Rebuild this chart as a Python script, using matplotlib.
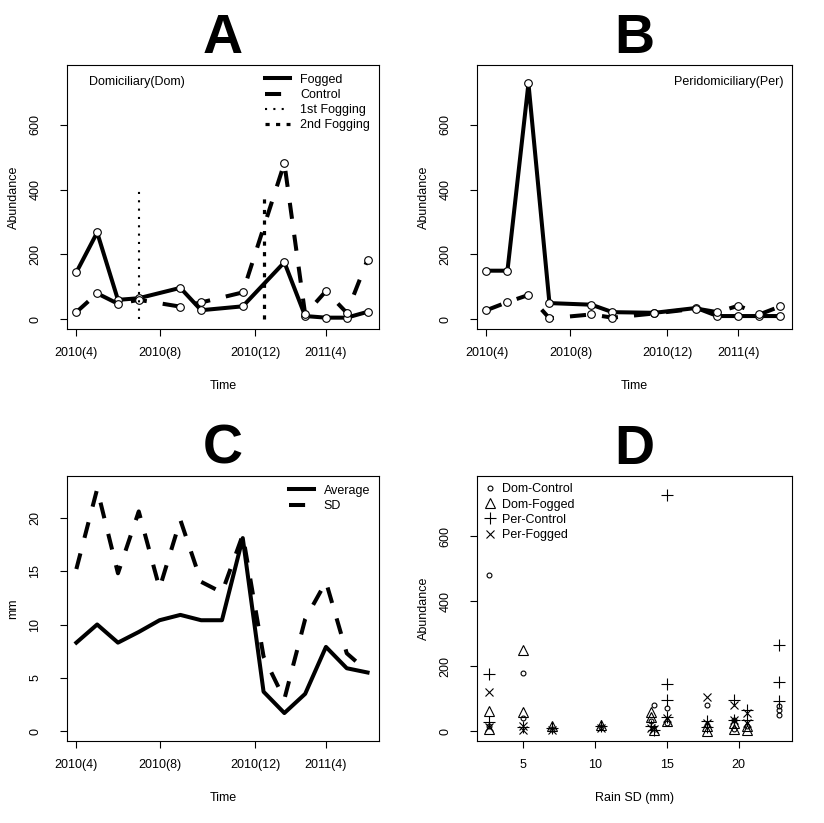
import numpy as np
import matplotlib.pyplot as plt
from matplotlib.lines import Line2D

plt.rcParams['font.family'] = ['Liberation Sans', 'DejaVu Sans']
plt.rcParams['font.size'] = 9

# sampling positions (month index) and time tick labels
t_idx = [1, 2, 3, 4, 6, 7, 9, 11, 12, 13, 14, 15]
t_all = list(range(1, 16))
time_ticks = [1, 5, 9.6, 13]
time_labels = ['2010(4)', '2010(8)', '2010(12)', '2011(4)']

# panel A: domiciliary
dom_fogged = [145, 268, 60, 65, 97, 28, 40, 176, 10, 5, 5, 23]
dom_control = [22, 80, 48, 60, 39, 52, 83, 482, 15, 87, 20, 184]
fog1_x, fog1_top = 4, 400
fog2_x, fog2_top = 10, 380

# panel B: peridomiciliary
per_fogged = [150, 150, 728, 50, 45, 22, 20, 35, 10, 10, 10, 10]
per_control = [28, 53, 75, 3, 15, 5, 18, 33, 22, 42, 15, 40]

# panel C: rain
rain_avg = [8.3, 10.0, 8.3, 9.3, 10.4, 10.9, 10.4, 10.4, 18.1, 3.7, 1.7, 3.5, 7.9, 5.9, 5.5]
rain_sd = [15.2, 22.7, 14.8, 20.6, 13.4, 19.8, 14.0, 13.0, 18.4, 7.0, 3.0, 10.5, 14.0, 7.3, 5.6]

# panel D: abundance vs rain SD
dc_x = [2.6, 2.6, 5.0, 5.0, 7.0, 10.4, 13.9, 14.1, 15.0, 15.0, 17.8, 17.8, 19.7, 19.7, 20.6, 22.8, 22.8, 22.8]
dc_y = [480, 15, 180, 40, 8, 12, 30, 82, 70, 25, 82, 20, 35, 8, 15, 77, 65, 50]
df_x = [2.6, 2.6, 5.0, 5.0, 7.0, 10.4, 13.9, 13.9, 14.1, 15.0, 17.8, 17.8, 19.7, 19.7, 20.6, 20.6]
df_y = [62, 6, 250, 60, 15, 18, 60, 45, 5, 30, 15, 2, 25, 8, 15, 5]
pc_x = [2.6, 2.6, 5.0, 7.0, 10.4, 13.9, 14.1, 15.0, 15.0, 15.0, 15.0, 17.8, 17.8, 19.7, 19.7, 20.6, 20.6, 22.8, 22.8, 22.8]
pc_y = [175, 28, 12, 10, 15, 15, 5, 728, 145, 95, 45, 30, 12, 95, 36, 65, 35, 265, 152, 92]
pf_x = [2.6, 2.6, 5.0, 5.0, 7.0, 10.4, 13.9, 14.1, 15.0, 17.8, 17.8, 19.7, 19.7, 20.6, 20.6]
pf_y = [122, 12, 15, 3, 3, 10, 10, 8, 40, 105, 25, 80, 36, 55, 25]

W, H = 824, 823
fig = plt.figure(figsize=(W / 100, H / 100), dpi=100)
axA = fig.add_axes([67 / W, 1 - 329 / H, 312 / W, 264 / H])
axB = fig.add_axes([477 / W, 1 - 329 / H, 315 / W, 264 / H])
axC = fig.add_axes([67 / W, 1 - 741 / H, 312 / W, 265 / H])
axD = fig.add_axes([477 / W, 1 - 741 / H, 315 / W, 265 / H])

LW = 2.9
DASH = (0, (4, 4))


def style(ax):
    for s in ax.spines.values():
        s.set_linewidth(0.8)
    ax.tick_params(direction='out', length=5, width=0.8, labelsize=9)
    ax.tick_params(axis='x', pad=8)
    ax.tick_params(axis='y', pad=13.5)
    for t in ax.get_yticklabels():
        t.set_rotation(90)
        t.set_va('center')


def line(ax, x, y, ls):
    ax.plot(x, y, color='k', lw=LW, ls=ls, marker='o', ms=5.5,
            mfc='white', mec='k', mew=0.8, solid_joinstyle='round')


# A
line(axA, t_idx, dom_fogged, '-')
line(axA, t_idx, dom_control, DASH)
axA.plot([fog1_x, fog1_x], [0, fog1_top], color='k', lw=1.5, ls=(0, (1, 3)))
axA.plot([fog2_x, fog2_x], [0, fog2_top], color='k', lw=2.3, ls=(0, (1.3, 2.0)))
axA.text(0.072, 0.936, 'Domiciliary(Dom)', transform=axA.transAxes, va='center', ha='left')
handles = [Line2D([], [], color='k', lw=LW, ls='-'),
           Line2D([], [], color='k', lw=LW, ls=DASH),
           Line2D([], [], color='k', lw=1.5, ls=(0, (1, 3))),
           Line2D([], [], color='k', lw=2.3, ls=(0, (1.3, 2.0)))]
axA.legend(handles, ['Fogged', 'Control', '1st Fogging', '2nd Fogging'], loc='upper right',
           frameon=False, fontsize=9, handlelength=2.0, handletextpad=0.8,
           labelspacing=0.25, borderaxespad=0.3)

# B
line(axB, t_idx, per_fogged, '-')
line(axB, t_idx, per_control, DASH)
axB.text(0.972, 0.936, 'Peridomiciliary(Per)', transform=axB.transAxes, va='center', ha='right')

for ax in (axA, axB):
    ax.set_xlim(0.55, 15.55)
    ax.set_ylim(-30, 785)
    ax.set_yticks([0, 200, 400, 600])
    ax.set_xticks(time_ticks, time_labels)
    ax.set_xlabel('Time', labelpad=15)
    ax.set_ylabel('Abundance', labelpad=7)
    style(ax)

# C
axC.plot(t_all, rain_avg, color='k', lw=LW, ls='-', solid_joinstyle='round', label='Average')
axC.plot(t_all, rain_sd, color='k', lw=LW, ls=DASH, label='SD')
axC.set_xlim(0.55, 15.55)
axC.set_ylim(-0.92, 23.92)
axC.set_yticks([0, 5, 10, 15, 20])
axC.set_xticks(time_ticks, time_labels)
axC.set_xlabel('Time', labelpad=15)
axC.set_ylabel('mm', labelpad=7)
axC.legend(loc='upper right', frameon=False, fontsize=9, handlelength=2.0,
           handletextpad=0.8, labelspacing=0.25, borderaxespad=0.3)
style(axC)

# D
mk = dict(color='k', ls='none', mfc='none', mec='k', mew=0.8)
axD.plot(dc_x, dc_y, marker='o', ms=3.5, label='Dom-Control', **mk)
axD.plot(df_x, df_y, marker='^', ms=6.5, label='Dom-Fogged', **mk)
axD.plot(pc_x, pc_y, marker='+', ms=8.5, label='Per-Control', **mk)
axD.plot(pf_x, pf_y, marker='x', ms=5.5, label='Per-Fogged', **mk)
axD.set_xlim(1.79, 23.72)
axD.set_ylim(-30, 785)
axD.set_xticks([5, 10, 15, 20])
axD.set_yticks([0, 200, 400, 600])
axD.set_xlabel('Rain SD (mm)', labelpad=15)
axD.set_ylabel('Abundance', labelpad=7)
axD.legend(loc='upper left', frameon=False, fontsize=9, handlelength=0.8,
           handletextpad=0.6, labelspacing=0.25, borderaxespad=0.2)
style(axD)

for ax, letter in zip((axA, axB, axC, axD), 'ABCD'):
    ax.set_title(letter, fontsize=40, fontweight='bold', pad=6)

fig.savefig('out.png', dpi=100)
